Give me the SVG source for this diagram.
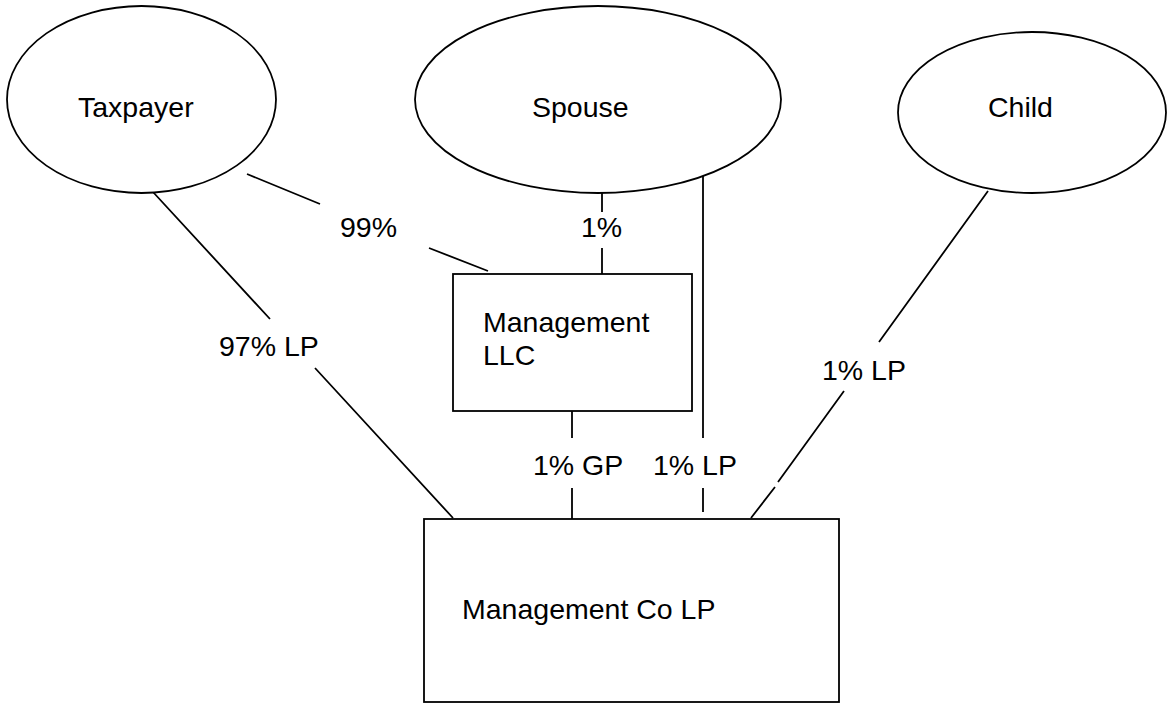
<svg xmlns="http://www.w3.org/2000/svg" width="1170" height="704" viewBox="0 0 1170 704">
<style>
.shape{fill:#fff;stroke:#000;stroke-width:1.8}
.ln{stroke:#000;stroke-width:1.8;fill:none}
text{font-family:"Liberation Sans",Arial,sans-serif;font-size:28.5px;fill:#000}
</style>
<rect x="0" y="0" width="1170" height="704" fill="#fff"/>
<g id="connectors">
<path class="ln" d="M247,174 L320,204 M429,248 L488,271"/>
<path class="ln" d="M153,192 L270,319 M315,368 L453,518"/>
<path class="ln" d="M602,193 L602,212 M602,248 L602,274"/>
<path class="ln" d="M572,411 L572,438 M572,488 L572,519"/>
<path class="ln" d="M703,175 L703,438 M703,488 L703,512"/>
<path class="ln" d="M988,191 L879,342 M844,391 L778,482 M775,487 L751,518"/>
<text x="340" y="237">99%</text>
<text x="581" y="237">1%</text>
<text x="219" y="356">97% LP</text>
<text x="533" y="475">1% GP</text>
<text x="653" y="475">1% LP</text>
<text x="822" y="380">1% LP</text>
</g>
<g id="taxpayer">
<ellipse class="shape" cx="141.5" cy="99.5" rx="134.5" ry="93.5"/>
<text x="78" y="117">Taxpayer</text>
</g>
<g id="spouse">
<ellipse class="shape" cx="598" cy="99.5" rx="183" ry="93.5"/>
<text x="532" y="117">Spouse</text>
</g>
<g id="child">
<ellipse class="shape" cx="1032" cy="112.5" rx="134" ry="80.5"/>
<text x="988" y="117">Child</text>
</g>
<g id="management-llc">
<rect class="shape" x="453" y="274" width="239" height="137"/>
<text x="483" y="332">Management</text>
<text x="483" y="365">LLC</text>
</g>
<g id="management-co-lp">
<rect class="shape" x="424" y="519" width="415" height="183"/>
<text x="462" y="619">Management Co LP</text>
</g>
</svg>
